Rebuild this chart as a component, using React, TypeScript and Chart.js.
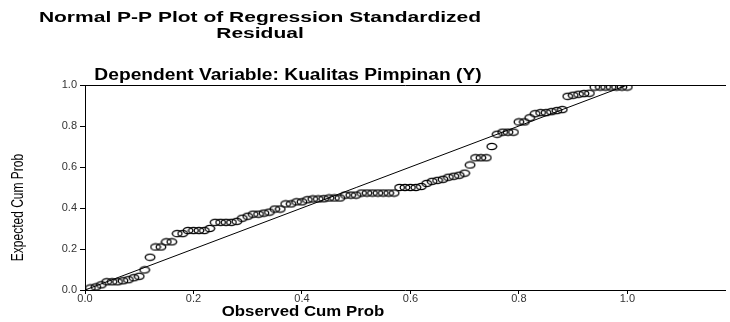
import React, { useEffect, useRef } from 'react';
import { Chart, registerables } from 'chart.js';

Chart.register(...registerables);

// ---- Data ----
const observedCumProb = [
  0.01, 0.02, 0.03, 0.04, 0.05, 0.06, 0.07, 0.08, 0.09, 0.10,
  0.11, 0.12, 0.13, 0.14, 0.15, 0.16, 0.17, 0.18, 0.19, 0.20,
  0.21, 0.22, 0.23, 0.24, 0.25, 0.26, 0.27, 0.28, 0.29, 0.30,
  0.31, 0.32, 0.33, 0.34, 0.35, 0.36, 0.37, 0.38, 0.39, 0.40,
  0.41, 0.42, 0.43, 0.44, 0.45, 0.46, 0.47, 0.48, 0.49, 0.50,
  0.51, 0.52, 0.53, 0.54, 0.55, 0.56, 0.57, 0.58, 0.59, 0.60,
  0.61, 0.62, 0.63, 0.64, 0.65, 0.66, 0.67, 0.68, 0.69, 0.70,
  0.71, 0.72, 0.73, 0.74, 0.75, 0.76, 0.77, 0.78, 0.79, 0.80,
  0.81, 0.82, 0.83, 0.84, 0.85, 0.86, 0.87, 0.88, 0.89, 0.90,
  0.91, 0.92, 0.93, 0.94, 0.95, 0.96, 0.97, 0.98, 0.99, 1.00,
];

const expectedCumProb = [
  0.010, 0.015, 0.025, 0.040, 0.040, 0.040, 0.045, 0.050, 0.060, 0.067,
  0.098, 0.160, 0.210, 0.210, 0.235, 0.235, 0.275, 0.275, 0.290, 0.290,
  0.290, 0.290, 0.300, 0.330, 0.330, 0.330, 0.330, 0.335, 0.350, 0.360,
  0.370, 0.370, 0.375, 0.380, 0.395, 0.395, 0.420, 0.420, 0.430, 0.430,
  0.440, 0.444, 0.444, 0.445, 0.449, 0.449, 0.449, 0.463, 0.463, 0.463,
  0.473, 0.473, 0.473, 0.473, 0.473, 0.473, 0.473, 0.500, 0.500, 0.500,
  0.500, 0.505, 0.520, 0.530, 0.535, 0.540, 0.550, 0.555, 0.560, 0.570,
  0.610, 0.645, 0.645, 0.645, 0.700, 0.760, 0.770, 0.770, 0.770, 0.820,
  0.820, 0.840, 0.860, 0.865, 0.865, 0.870, 0.875, 0.880, 0.945, 0.950,
  0.955, 0.958, 0.960, 0.990, 0.990, 0.990, 0.990, 0.990, 0.990, 0.990,
];

const refLineX = [0, 1];
const refLineY = [0, 1];
const axisTicks = [0, 0.2, 0.4, 0.6, 0.8, 1.0];

const titleLines = ['Normal P-P Plot of Regression Standardized', 'Residual'];
const subtitleText = 'Dependent Variable: Kualitas Pimpinan (Y)';
const xAxisTitle = 'Observed Cum Prob';
const yAxisTitle = 'Expected Cum Prob';

const FONT = '"Liberation Sans", Arial, Helvetica, sans-serif';

function stretchedText(
  ctx: CanvasRenderingContext2D,
  text: string,
  x: number,
  y: number,
  font: string,
  sx: number,
  rot: number,
  align: CanvasTextAlign,
  baseline: CanvasTextBaseline
) {
  ctx.save();
  ctx.translate(x, y);
  if (rot) ctx.rotate(rot);
  ctx.scale(sx, 1);
  ctx.font = font;
  ctx.fillStyle = '#000';
  ctx.textAlign = align;
  ctx.textBaseline = baseline;
  ctx.fillText(text, 0, 0);
  ctx.restore();
}

const textPlugin = {
  id: 'spssTexts',
  afterDraw(chart: any) {
    const ctx = chart.ctx as CanvasRenderingContext2D;
    const area = chart.chartArea;
    const titleFont = `bold 14px ${FONT}`;
    stretchedText(ctx, titleLines[0], 260, 22, titleFont, 1.5, 0, 'center', 'alphabetic');
    stretchedText(ctx, titleLines[1], 260, 38, titleFont, 1.5, 0, 'center', 'alphabetic');
    stretchedText(ctx, subtitleText, 288, 80, `bold 16px ${FONT}`, 1.2, 0, 'center', 'alphabetic');
    stretchedText(ctx, xAxisTitle, 303, 316, `bold 15px ${FONT}`, 1.12, 0, 'center', 'alphabetic');
    stretchedText(
      ctx,
      yAxisTitle,
      19,
      (area.top + area.bottom) / 2 + 20,
      `16px ${FONT}`,
      0.75,
      -Math.PI / 2,
      'center',
      'middle'
    );
  },
};

function makeRing(): HTMLCanvasElement {
  const c = document.createElement('canvas');
  c.width = 12;
  c.height = 9;
  const g = c.getContext('2d')!;
  g.strokeStyle = '#000';
  g.lineWidth = 1.3;
  g.beginPath();
  g.ellipse(6, 4.5, 4.8, 3.2, 0, 0, Math.PI * 2);
  g.stroke();
  return c;
}

export default function App() {
  const ref = useRef<HTMLCanvasElement | null>(null);

  useEffect(() => {
    document.body.style.margin = '0';
    const canvas = ref.current;
    if (!canvas) return;

    const points = observedCumProb.map((x, i) => ({ x, y: expectedCumProb[i] }));
    const line = refLineX.map((x, i) => ({ x, y: refLineY[i] }));
    const tickFont = { family: FONT, size: 11 };

    const chart = new Chart(canvas, {
      type: 'scatter',
      data: {
        datasets: [
          {
            data: line,
            showLine: true,
            borderColor: '#000',
            borderWidth: 1,
            pointRadius: 0,
            fill: false,
          },
          {
            data: points,
            pointStyle: makeRing() as any,
            pointRadius: 4,
            showLine: false,
          },
        ],
      },
      options: {
        animation: false,
        responsive: false,
        maintainAspectRatio: false,
        layout: { padding: { left: 0, top: 85, right: 1, bottom: 0 } },
        plugins: {
          legend: { display: false },
          tooltip: { enabled: false },
          title: { display: false },
        },
        scales: {
          x: {
            type: 'linear',
            position: 'bottom',
            min: 0,
            max: 1.18,
            afterBuildTicks: (s: any) => {
              s.ticks = axisTicks.map((v) => ({ value: v }));
            },
            afterFit: (s: any) => {
              s.height = 32;
            },
            grid: {
              display: true,
              drawOnChartArea: false,
              drawTicks: true,
              tickLength: 4,
              color: '#000',
            },
            border: { display: true, color: '#000', width: 1 },
            ticks: {
              callback: (v: any) => Number(v).toFixed(1),
              font: tickFont,
              color: '#333',
              padding: -2,
              maxRotation: 0,
              autoSkip: false,
            },
          },
          x2: {
            type: 'linear',
            position: 'top',
            min: 0,
            max: 1.18,
            grid: { display: false },
            ticks: { display: false },
            border: { display: true, color: '#000', width: 1 },
            afterFit: (s: any) => {
              s.height = 0;
            },
          },
          y: {
            type: 'linear',
            position: 'left',
            min: 0,
            max: 1,
            afterBuildTicks: (s: any) => {
              s.ticks = axisTicks.map((v) => ({ value: v }));
            },
            afterFit: (s: any) => {
              s.width = 85;
            },
            grid: {
              display: true,
              drawOnChartArea: false,
              drawTicks: true,
              tickLength: 5,
              color: '#000',
            },
            border: { display: true, color: '#000', width: 1 },
            ticks: {
              callback: (v: any) => Number(v).toFixed(1),
              font: tickFont,
              color: '#333',
              padding: 3,
              autoSkip: false,
            },
          },
        },
      } as any,
      plugins: [textPlugin],
    });

    return () => chart.destroy();
  }, []);

  return (
    <div style={{ width: 730, height: 322, position: 'relative' }}>
      <canvas ref={ref} width={730} height={322} style={{ display: 'block' }} />
    </div>
  );
}
